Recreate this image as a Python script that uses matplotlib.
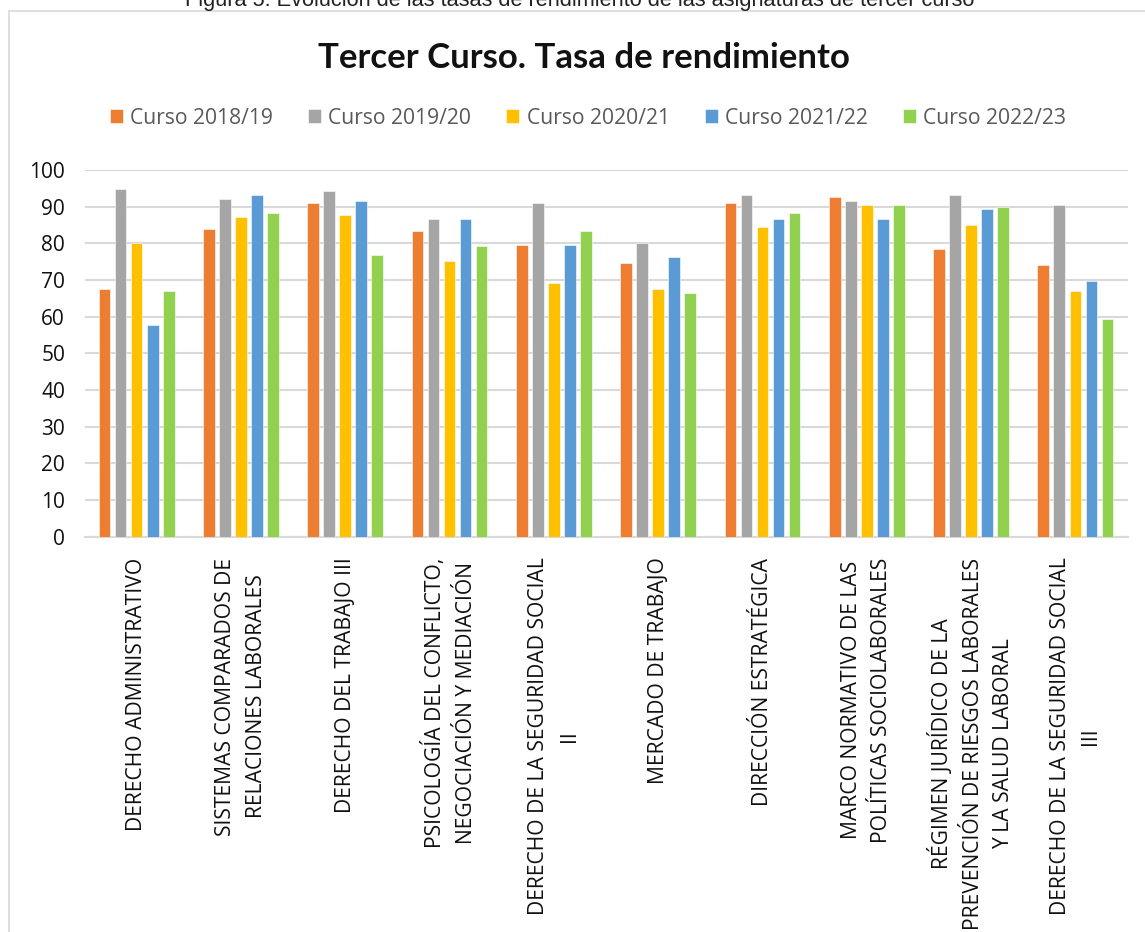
import matplotlib
matplotlib.use("Agg")
import matplotlib.pyplot as plt
from matplotlib.patches import Rectangle
import numpy as np

categories = [
    "DERECHO ADMINISTRATIVO",
    "SISTEMAS COMPARADOS DE\nRELACIONES LABORALES",
    "DERECHO DEL TRABAJO III",
    "PSICOLOGÍA DEL CONFLICTO,\nNEGOCIACIÓN Y MEDIACIÓN",
    "DERECHO DE LA SEGURIDAD SOCIAL\nII",
    "MERCADO DE TRABAJO",
    "DIRECCIÓN ESTRATÉGICA",
    "MARCO NORMATIVO DE LAS\nPOLÍTICAS SOCIOLABORALES",
    "RÉGIMEN JURÍDICO DE LA\nPREVENCIÓN DE RIESGOS LABORALES\nY LA SALUD LABORAL",
    "DERECHO DE LA SEGURIDAD SOCIAL\nIII",
]
series_names = ["Curso 2018/19", "Curso 2019/20", "Curso 2020/21", "Curso 2021/22", "Curso 2022/23"]
curso_2018_19 = [67.5, 83.9, 90.9, 83.3, 79.5, 74.6, 90.9, 92.6, 78.4, 74.0]
curso_2019_20 = [94.7, 92.1, 94.2, 86.6, 90.9, 80.1, 93.1, 91.5, 93.2, 90.5]
curso_2020_21 = [80.2, 87.1, 87.7, 75.2, 69.1, 67.5, 84.4, 90.4, 84.9, 66.9]
curso_2021_22 = [57.7, 93.1, 91.5, 86.6, 79.5, 76.2, 86.6, 86.6, 89.3, 69.6]
curso_2022_23 = [66.9, 88.2, 76.8, 79.4, 83.4, 66.5, 88.2, 90.4, 89.9, 59.3]
yticks = list(range(0, 101, 10))

series = [curso_2018_19, curso_2019_20, curso_2020_21, curso_2021_22, curso_2022_23]
colors = ["#ED7D31", "#A5A5A5", "#FFC000", "#5B9BD5", "#92D050"]

W, H = 1145, 932
fig = plt.figure(figsize=(W / 100, H / 100), dpi=100)
fig.patch.set_facecolor("white")

# chart frame
fig.add_artist(Rectangle((8.5 / W, -0.01), 1.1, (H - 11) / H + 0.01, transform=fig.transFigure,
                         fill=False, edgecolor="#D9D9D9", linewidth=1.2))

# caption (partially cut off at top, as in the source)
fig.text(580 / W, 1 - 6 / H, "Figura 5. Evolución de las tasas de rendimiento de las asignaturas de tercer curso",
         ha="center", va="baseline", fontsize=15.7,
         family=["Liberation Sans Narrow", "Liberation Sans", "DejaVu Sans"], color="#222222")

ax = fig.add_axes([84.5 / W, (H - 536.7) / H, 1043 / W, 366.7 / H])
x = np.arange(len(categories))
step, width = 0.1535, 0.112
for i, (vals, c, name) in enumerate(zip(series, colors, series_names)):
    ax.bar(x + (i - 2) * step, vals, width=width, color=c, label=name, edgecolor="white", linewidth=0.4, zorder=3)

ax.set_xlim(-0.5, len(categories) - 0.5)
ax.set_ylim(0, 100)
ax.set_yticks(yticks)
ax.set_yticklabels([str(v) for v in yticks], fontsize=15, family="Open Sans", color="#111111")
ax.yaxis.grid(True, color="#D9D9D9", linewidth=1.5, zorder=0)
ax.set_axisbelow(True)
for s in ["top", "right", "left"]:
    ax.spines[s].set_visible(False)
ax.spines["bottom"].set_color("#D9D9D9")
ax.spines["bottom"].set_linewidth(1.5)
ax.tick_params(axis="both", length=0)
ax.tick_params(axis="y", pad=14)
ax.set_xticks(x)
ax.set_xticklabels(categories, rotation=90, fontsize=15.2, family="Open Sans", ha="center", va="top",
                   multialignment="center", linespacing=1.59, color="#111111")
ax.tick_params(axis="x", pad=15)

fig.text(584 / W, 1 - 58 / H, "Tercer Curso. Tasa de rendimiento", ha="center", va="center",
         fontsize=25, fontweight="bold", family="Lato", color="#111111")

handles, labels = ax.get_legend_handles_labels()
leg = fig.legend(handles, labels, loc="center", bbox_to_anchor=(588 / W, 1 - 118 / H), ncol=5, frameon=False,
                 handlelength=0.62, handleheight=0.62, handletextpad=0.35, columnspacing=1.65,
                 prop={"family": "Open Sans", "size": 15.2})
for t in leg.get_texts():
    t.set_color("#595959")

fig.savefig("out.png", dpi=100)
